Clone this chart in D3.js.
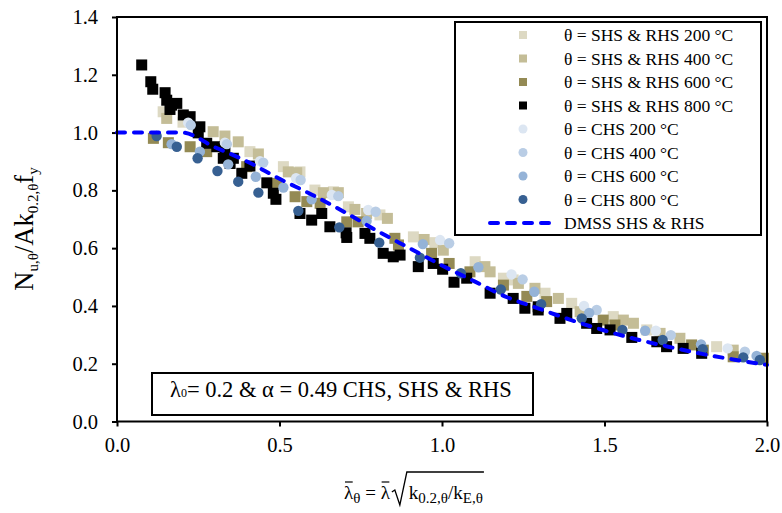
<!DOCTYPE html>
<html>
<head>
<meta charset="utf-8">
<script src="https://cdn.jsdelivr.net/npm/d3@7"></script>
<style>
  body { margin: 0; background: #fff; }
  svg { font-family: 'Liberation Serif', 'Times New Roman', serif; }
  text { white-space: pre; }
</style>
</head>
<body>
<div id="chart-area"></div>
<script>
// values, [lambda, N/Af]
const shs200 = [[0.142, 1.072], [0.203, 1.036], [0.409, 0.934], [0.512, 0.882], [0.563, 0.864], [0.609, 0.801],
  [0.666, 0.795], [0.712, 0.743], [0.809, 0.715], [0.912, 0.639], [0.978, 0.619], [1.102, 0.553], [1.189, 0.496],
  [1.219, 0.490], [1.317, 0.444], [1.399, 0.409], [1.527, 0.363], [1.630, 0.317], [1.845, 0.259]];
const shs400 = [[0.153, 1.049], [0.296, 1.003], [0.332, 0.988], [0.373, 0.968], [0.435, 0.926], [0.527, 0.864],
  [0.553, 0.861], [0.635, 0.792], [0.681, 0.792], [0.732, 0.734], [0.768, 0.720], [0.832, 0.703], [0.945, 0.630],
  [1.004, 0.593], [1.132, 0.536], [1.148, 0.518], [1.235, 0.478], [1.286, 0.461], [1.358, 0.426], [1.425, 0.380],
  [1.558, 0.351], [1.589, 0.340], [1.671, 0.305], [1.732, 0.288], [1.896, 0.247]];
const shs600 = [[0.112, 0.980], [0.158, 0.965], [0.225, 0.951], [0.276, 0.934], [0.399, 0.882], [0.491, 0.824],
  [0.548, 0.778], [0.584, 0.761], [0.625, 0.755], [0.707, 0.691], [0.742, 0.691], [0.855, 0.634], [0.866, 0.611],
  [0.968, 0.582], [1.022, 0.547], [1.086, 0.518], [1.189, 0.472], [1.261, 0.433], [1.322, 0.415], [1.496, 0.351],
  [1.532, 0.334], [1.768, 0.265], [1.804, 0.247], [1.896, 0.224], [1.989, 0.219]];
const shs800 = [[0.076, 1.234], [0.104, 1.176], [0.110, 1.150], [0.148, 1.138], [0.153, 1.112], [0.168, 1.095],
  [0.184, 1.101], [0.163, 1.080], [0.204, 1.061], [0.225, 1.055], [0.255, 1.020], [0.250, 0.999], [0.276, 0.963],
  [0.307, 0.951], [0.332, 0.942], [0.327, 0.911], [0.358, 0.911], [0.348, 0.893], [0.409, 0.884], [0.384, 0.859],
  [0.461, 0.826], [0.481, 0.790], [0.489, 0.769], [0.563, 0.720], [0.599, 0.697], [0.630, 0.720], [0.655, 0.674],
  [0.705, 0.653], [0.707, 0.637], [0.763, 0.651], [0.778, 0.634], [0.819, 0.582], [0.850, 0.570], [0.871, 0.576],
  [0.927, 0.536], [0.973, 0.547], [1.002, 0.527], [1.037, 0.482], [1.076, 0.496], [1.148, 0.444], [1.219, 0.426],
  [1.255, 0.392], [1.296, 0.397], [1.296, 0.386], [1.363, 0.357], [1.384, 0.374], [1.445, 0.340], [1.476, 0.322],
  [1.517, 0.317], [1.584, 0.291], [1.661, 0.276], [1.691, 0.259], [1.742, 0.253], [1.799, 0.236]];
const chs200 = [[0.219, 1.034], [0.332, 0.965], [0.440, 0.901], [0.551, 0.842], [0.661, 0.784], [0.773, 0.732],
  [0.994, 0.628], [1.214, 0.509], [1.437, 0.400], [1.658, 0.314], [1.879, 0.253]];
const chs400 = [[0.227, 1.026], [0.338, 0.960], [0.450, 0.896], [0.565, 0.836], [0.681, 0.780], [0.796, 0.726],
  [1.022, 0.617], [1.248, 0.492], [1.476, 0.386], [1.704, 0.299], [1.932, 0.242]];
const chs600 = [[0.168, 0.960], [0.255, 0.934], [0.342, 0.890], [0.427, 0.847], [0.512, 0.810], [0.599, 0.769],
  [0.768, 0.694], [0.941, 0.614], [1.112, 0.534], [1.284, 0.449], [1.453, 0.376], [1.625, 0.314], [1.797, 0.267],
  [1.968, 0.227]];
const chs800 = [[0.122, 0.988], [0.184, 0.951], [0.248, 0.911], [0.309, 0.867], [0.373, 0.830], [0.435, 0.792],
  [0.558, 0.729], [0.684, 0.672], [0.807, 0.619], [0.932, 0.567], [1.058, 0.513], [1.181, 0.457], [1.305, 0.406],
  [1.430, 0.357], [1.555, 0.317], [1.679, 0.282], [1.802, 0.250], [1.927, 0.222], [1.978, 0.213]];

// design curve
const dmssX = [0, 0.1, 0.2, 0.3, 0.4, 0.5, 0.6, 0.7, 0.8, 0.9, 1.0, 1.1, 1.2, 1.3, 1.4, 1.5, 1.6, 1.7, 1.8, 1.9, 2.0];
const dmssY = [1.0, 1.0, 1.0, 0.95, 0.90, 0.84, 0.785, 0.725, 0.66, 0.60, 0.54, 0.485, 0.43, 0.39, 0.35, 0.315,
  0.284, 0.258, 0.234, 0.214, 0.196];

const xTicks = [0, 0.5, 1.0, 1.5, 2.0];
const yTicks = [0, 0.2, 0.4, 0.6, 0.8, 1.0, 1.2, 1.4];

const series = [
  { name: 'θ = SHS & RHS 200 °C', data: shs200, color: '#DDD9C3', shape: 'square' },
  { name: 'θ = SHS & RHS 400 °C', data: shs400, color: '#C4BD97', shape: 'square' },
  { name: 'θ = SHS & RHS 600 °C', data: shs600, color: '#948A54', shape: 'square' },
  { name: 'θ = SHS & RHS 800 °C', data: shs800, color: '#000000', shape: 'square' },
  { name: 'θ = CHS 200 °C', data: chs200, color: '#DCE6F2', shape: 'circle' },
  { name: 'θ = CHS 400 °C', data: chs400, color: '#B9CDE5', shape: 'circle' },
  { name: 'θ = CHS 600 °C', data: chs600, color: '#95B3D7', shape: 'circle' },
  { name: 'θ = CHS 800 °C', data: chs800, color: '#376092', shape: 'circle' }
];

const margins = { top: 17, right: 15, bottom: 91.5, left: 117 };
const width = 782 - margins.left - margins.right;
const height = 513 - margins.top - margins.bottom;

const svg = d3.select('#chart-area')
  .append('svg')
  .attr('width', 782)
  .attr('height', 513);

const g = svg.append('g')
  .attr('transform', 'translate(' + margins.left + ', ' + margins.top + ')');

const x = d3.scaleLinear().domain([0, 2]).range([0, width]);
const y = d3.scaleLinear().domain([0, 1.4]).range([height, 0]);

// axes
const yAxis = g.append('g')
  .attr('class', 'y axis')
  .call(d3.axisLeft(y).tickValues(yTicks).tickFormat(d3.format('.1f')).tickSize(5).tickSizeOuter(0).tickPadding(14));

const xAxis = g.append('g')
  .attr('class', 'x axis')
  .attr('transform', 'translate(0, ' + height + ')')
  .call(d3.axisBottom(x).tickValues(xTicks).tickFormat(d3.format('.1f')).tickSize(5).tickSizeOuter(0).tickPadding(11));

[xAxis, yAxis].forEach((ax) => {
  ax.attr('font-family', null);
  ax.select('.domain').remove();
  ax.selectAll('line').attr('stroke', '#000').attr('stroke-width', 2);
  ax.selectAll('text')
    .attr('font-family', "'Liberation Serif', 'Times New Roman', serif")
    .attr('font-size', '20.5px')
    .attr('fill', '#000');
});

// markers
series.forEach((s) => {
  if (s.shape === 'square') {
    g.append('g').selectAll('rect')
      .data(s.data)
      .enter()
      .append('rect')
      .attr('x', (d) => x(d[0]) - 5.5)
      .attr('y', (d) => y(d[1]) - 5.5)
      .attr('width', 11)
      .attr('height', 11)
      .attr('fill', s.color);
  } else {
    g.append('g').selectAll('circle')
      .data(s.data)
      .enter()
      .append('circle')
      .attr('cx', (d) => x(d[0]))
      .attr('cy', (d) => y(d[1]))
      .attr('r', 5.2)
      .attr('fill', s.color);
  }
});

// dmss curve
const line = d3.line()
  .x((d, i) => x(dmssX[i]))
  .y((d) => y(d))
  .curve(d3.curveMonotoneX);

g.append('path')
  .datum(dmssY)
  .attr('d', line)
  .attr('fill', 'none')
  .attr('stroke', '#0000FF')
  .attr('stroke-width', 4)
  .attr('stroke-linecap', 'round')
  .attr('stroke-dasharray', '8,9');

// frame
g.append('rect')
  .attr('width', width)
  .attr('height', height)
  .attr('fill', 'none')
  .attr('stroke', '#000')
  .attr('stroke-width', 2);

// legend
const legend = svg.append('g').attr('class', 'legend');
legend.append('rect')
  .attr('x', 455)
  .attr('y', 22)
  .attr('width', 306)
  .attr('height', 213)
  .attr('fill', '#fff')
  .attr('stroke', '#000')
  .attr('stroke-width', 2);

series.forEach((s, i) => {
  const ly = 35 + i * 23.5;
  if (s.shape === 'square') {
    legend.append('rect')
      .attr('x', 519).attr('y', ly - 4).attr('width', 8).attr('height', 8)
      .attr('fill', s.color);
  } else {
    legend.append('circle')
      .attr('cx', 523).attr('cy', ly).attr('r', 4.5)
      .attr('fill', s.color);
  }
  legend.append('text')
    .attr('x', 564).attr('y', ly).attr('dy', '0.35em')
    .attr('font-size', '17.5px')
    .text(s.name);
});

const lastY = 35 + 8 * 23.5;
legend.append('line')
  .attr('x1', 490).attr('x2', 556)
  .attr('y1', lastY).attr('y2', lastY)
  .attr('stroke', '#0000FF')
  .attr('stroke-width', 4)
  .attr('stroke-linecap', 'round')
  .attr('stroke-dasharray', '8,9');
legend.append('text')
  .attr('x', 564).attr('y', lastY).attr('dy', '0.35em')
  .attr('font-size', '17.5px')
  .text('DMSS SHS & RHS');

// annotation box
svg.append('rect')
  .attr('x', 152).attr('y', 373).attr('width', 381).attr('height', 42)
  .attr('fill', '#fff')
  .attr('stroke', '#000')
  .attr('stroke-width', 2);
const note = svg.append('text')
  .attr('x', 170).attr('y', 397)
  .attr('font-size', '22.5px');
note.append('tspan').text('λ');
note.append('tspan').attr('font-size', '12px').text('0');
note.append('tspan').text('= 0.2 & α = 0.49 CHS, SHS & RHS');

// y label
const yl = svg.append('text')
  .attr('transform', 'translate(33, 229) rotate(-90)')
  .attr('text-anchor', 'middle')
  .attr('font-size', '26.5px');
yl.append('tspan').text('N');
yl.append('tspan').attr('font-size', '15px').attr('dy', 5).text('u,θ');
yl.append('tspan').attr('dy', -5).text('/Ak');
yl.append('tspan').attr('font-size', '15px').attr('dy', 5).text('0.2,θ');
yl.append('tspan').attr('dy', -5).text('f');
yl.append('tspan').attr('font-size', '15px').attr('dy', 5).text('y');

// x label, laid out piece by piece
const xl = svg.append('g').attr('class', 'x-label');
const base = 499;
let cx = 344;
function piece(t, size, dy) {
  const el = xl.append('text')
    .attr('x', cx)
    .attr('y', base + dy)
    .attr('font-size', size + 'px')
    .text(t);
  const start = cx;
  cx += el.node().getComputedTextLength();
  return [start, cx];
}
function overbar(p) {
  xl.append('line')
    .attr('x1', p[0] + 1).attr('x2', p[1] - 0.5)
    .attr('y1', base - 17).attr('y2', base - 17)
    .attr('stroke', '#000').attr('stroke-width', 1.2);
}
overbar(piece('λ', 19, 0));
piece('θ', 15, 4);
piece('\u00A0=\u00A0', 19, 0);
overbar(piece('λ', 19, 0));
const rx = cx + 2;
cx = rx + 17;
piece('k', 19, 0);
piece('0.2,θ', 15, 4);
piece('/k', 19, 0);
piece('E,θ', 15, 4);
xl.append('path')
  .attr('d', 'M' + rx + ',' + (base - 7) + 'L' + (rx + 3) + ',' + (base - 9) +
    'L' + (rx + 8) + ',' + (base + 6) + 'L' + (rx + 15) + ',' + (base - 27) + 'L' + (cx + 1) + ',' + (base - 27))
  .attr('fill', 'none')
  .attr('stroke', '#000')
  .attr('stroke-width', 1.3);
</script>
</body>
</html>
